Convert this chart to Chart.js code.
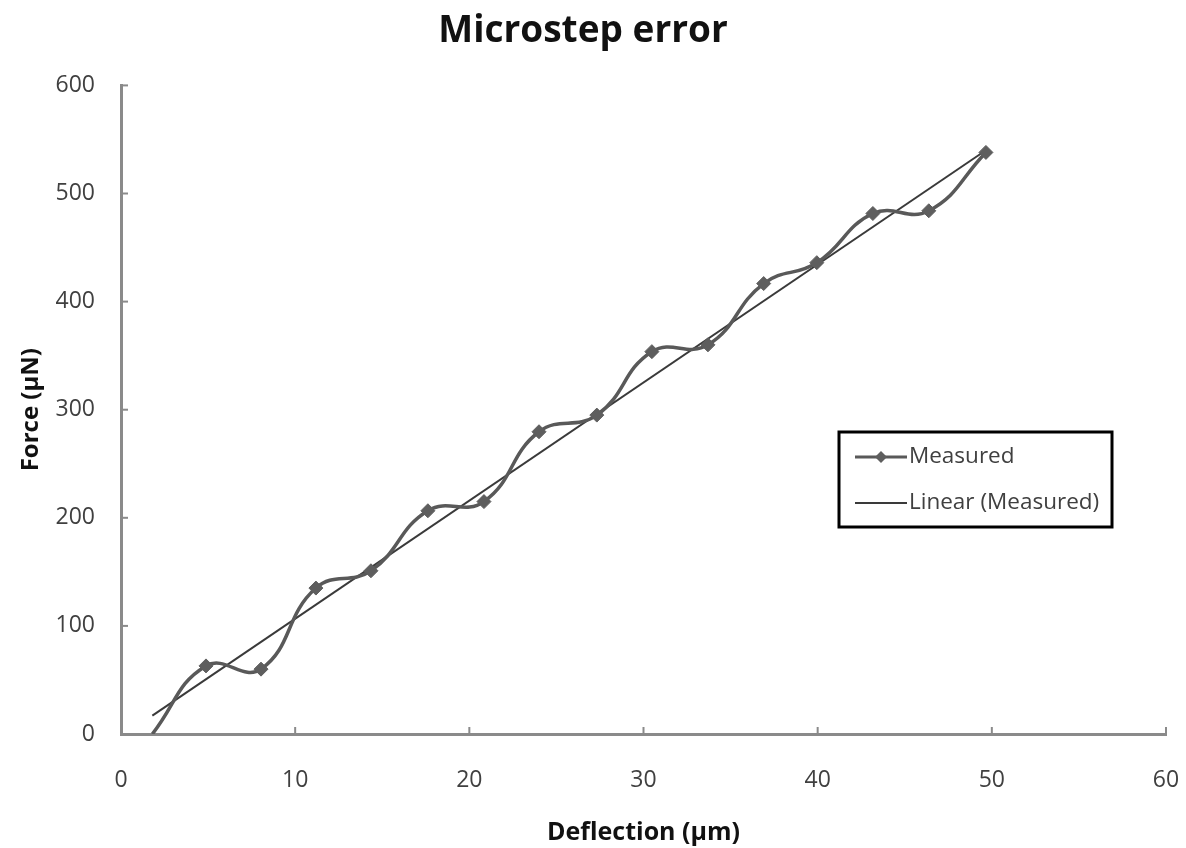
<!DOCTYPE html>
<html lang="en">
<head>
    <meta charset="UTF-8">
    <title>Microstep error</title>
    <script src="https://cdn.jsdelivr.net/npm/chart.js"></script>
    <style>
        html, body { margin: 0; padding: 0; background: #fff; }
        #wrap { width: 1186px; height: 848px; position: relative; }
    </style>
</head>
<body>
<div id="wrap"><canvas id="forceChart"></canvas></div>
<script>
// measured points: deflection in um, force in uN
const deflection = [1.8, 4.88, 8.04, 11.19, 14.35, 17.62, 20.84, 24.0, 27.32, 30.48, 33.7, 36.9, 39.95, 43.17, 46.38, 49.66];
const force      = [0, 63, 60, 135, 151, 206.5, 215, 279.6, 295, 353.7, 360, 416.7, 436, 481.5, 484, 538];

// linear trendline end points
const trendX = [1.8, 49.66];
const trendY = [17, 540];

const xTicks = [0, 10, 20, 30, 40, 50, 60];
const yTicks = [0, 100, 200, 300, 400, 500, 600];

const axisGray = '#8a8a8a';
const FONT = '"Open Sans", sans-serif';

// small tick marks pointing into the plot, plus the boxed legend
const extras = {
    id: 'extras',
    afterDraw(chart) {
        const ctx = chart.ctx;
        const xs = chart.scales.x, ys = chart.scales.y;
        const area = chart.chartArea;
        ctx.save();
        ctx.strokeStyle = axisGray;
        ctx.lineWidth = 2;
        xTicks.forEach(v => {
            const px = xs.getPixelForValue(v);
            ctx.beginPath();
            ctx.moveTo(px, area.bottom);
            ctx.lineTo(px, area.bottom - 7);
            ctx.stroke();
        });
        yTicks.forEach(v => {
            const py = ys.getPixelForValue(v);
            ctx.beginPath();
            ctx.moveTo(area.left, py);
            ctx.lineTo(area.left + 7, py);
            ctx.stroke();
        });

        // legend box
        const bx = 839, by = 432, bw = 273, bh = 95;
        ctx.fillStyle = '#fff';
        ctx.fillRect(bx, by, bw, bh);
        ctx.strokeStyle = '#000';
        ctx.lineWidth = 3;
        ctx.strokeRect(bx, by, bw, bh);

        const ds = chart.data.datasets;
        ctx.font = '22.5px ' + FONT;
        ctx.textBaseline = 'middle';
        // row 1: measured
        const y1 = by + 25;
        ctx.strokeStyle = ds[0].borderColor;
        ctx.lineWidth = 3;
        ctx.beginPath(); ctx.moveTo(bx + 16, y1); ctx.lineTo(bx + 68, y1); ctx.stroke();
        ctx.fillStyle = ds[0].pointBackgroundColor;
        ctx.beginPath();
        ctx.moveTo(bx + 42, y1 - 6); ctx.lineTo(bx + 48, y1); ctx.lineTo(bx + 42, y1 + 6); ctx.lineTo(bx + 36, y1);
        ctx.closePath(); ctx.fill();
        ctx.fillStyle = '#404040';
        ctx.fillText(ds[0].label, bx + 70, y1);
        // row 2: trendline
        const y2 = by + 71;
        ctx.strokeStyle = ds[1].borderColor;
        ctx.lineWidth = 2;
        ctx.beginPath(); ctx.moveTo(bx + 16, y2); ctx.lineTo(bx + 68, y2); ctx.stroke();
        ctx.fillText(ds[1].label, bx + 70, y2);
        ctx.restore();
    }
};

const ctx = document.getElementById('forceChart').getContext('2d');
new Chart(ctx, {
    type: 'scatter',
    data: {
        datasets: [
            {
                label: 'Measured',
                data: deflection.map((d, i) => ({ x: d, y: force[i] })),
                showLine: true,
                tension: 0.45,
                borderColor: '#595959',
                borderWidth: 3.5,
                pointStyle: 'rectRot',
                pointRadius: c => c.dataIndex === 0 ? 0 : 7,
                pointBackgroundColor: '#5e5e5e',
                pointBorderColor: '#5e5e5e',
                pointBorderWidth: 1,
                order: 1
            },
            {
                label: 'Linear (Measured)',
                data: trendX.map((d, i) => ({ x: d, y: trendY[i] })),
                showLine: true,
                borderColor: '#3a3a3a',
                borderWidth: 2,
                pointRadius: 0,
                order: 2
            }
        ]
    },
    options: {
        responsive: true,
        maintainAspectRatio: false,
        animation: false,
        layout: { padding: { left: 0, right: 20, top: 0, bottom: 0 } },
        plugins: {
            legend: { display: false },
            tooltip: { enabled: false },
            title: {
                display: true,
                text: 'Microstep error',
                color: '#111',
                font: { family: FONT, size: 37, weight: 'bold' },
                padding: { top: 9, bottom: 32 }
            }
        },
        scales: {
            x: {
                type: 'linear',
                min: 0, max: 60,
                afterFit: s => { s.height = 114; s.paddingLeft = 0; s.paddingRight = 0; },
                ticks: { stepSize: 10, padding: 33, color: '#404040', font: { family: FONT, size: 23 } },
                grid: { drawOnChartArea: false, drawTicks: false },
                border: { color: axisGray, width: 3 },
                title: {
                    display: true,
                    text: 'Deflection (µm)',
                    color: '#111',
                    font: { family: FONT, size: 25, weight: 'bold' },
                    padding: { top: 1, bottom: 0 }
                }
            },
            y: {
                type: 'linear',
                min: 0, max: 600,
                afterFit: s => { s.width = 121; },
                ticks: { stepSize: 100, padding: 26, color: '#404040', font: { family: FONT, size: 23 } },
                grid: { drawOnChartArea: false, drawTicks: false },
                border: { color: axisGray, width: 3 },
                title: {
                    display: true,
                    text: 'Force (µN)',
                    color: '#111',
                    font: { family: FONT, size: 24, weight: 'bold' },
                    padding: { top: 17, bottom: 0 }
                }
            }
        }
    },
    plugins: [extras]
});
</script>
</body>
</html>
